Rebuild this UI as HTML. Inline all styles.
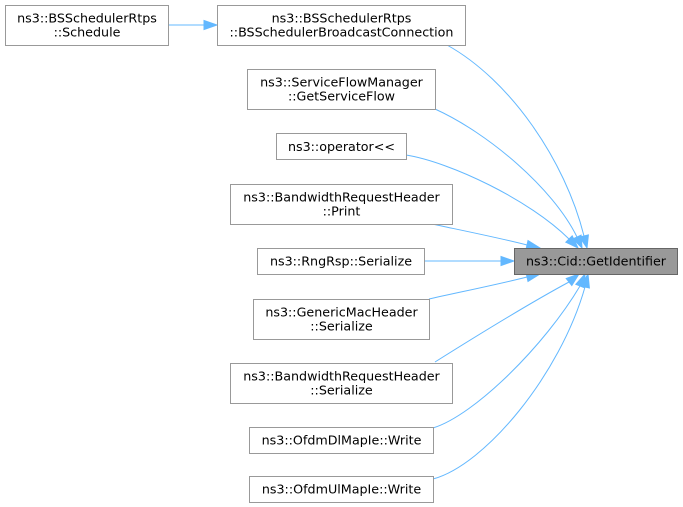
<!DOCTYPE html>
<html>
<head>
<meta charset="utf-8">
<style>
  html, body { margin: 0; padding: 0; background: #ffffff; }
  body { width: 683px; height: 507px; overflow: hidden; }
  svg { display: block; }
  text { font-family: "DejaVu Sans", "Liberation Sans", sans-serif; font-size: 12.7px; fill: #000000; text-anchor: middle; }
  .box { fill: #ffffff; stroke: #999999; stroke-width: 1; }
  .hl { fill: #999999; stroke: #666666; stroke-width: 1; }
  .edge { fill: none; stroke: #63b8ff; stroke-width: 1; }
  .arr { fill: #63b8ff; stroke: #63b8ff; stroke-width: 1; }
</style>
</head>
<body>
<svg width="683" height="507" viewBox="0 0 683 507" xmlns="http://www.w3.org/2000/svg">
  <!-- Edges -->
  <path class="edge" d="M168,25 L204,25"/>
  <polygon class="arr" points="204,20.5 217,25 204,29.5"/>

  <path class="edge" d="M447,45 C510,80 565,160 584,236"/>
  <polygon class="arr" points="579.6,237.1 587,248 588.4,234.9"/>

  <path class="edge" d="M435,109 C488,133 553,188 577,237"/>
  <polygon class="arr" points="572.9,238.9 582,248 581.1,235.1"/>

  <path class="edge" d="M406,155 C450,162 530,200 569,239"/>
  <polygon class="arr" points="565.8,242.2 578,248 572.2,235.8"/>

  <path class="edge" d="M432,224 C460,230 500,238 527,245"/>
  <polygon class="arr" points="526,249.4 540,248 528,240.6"/>

  <path class="edge" d="M424,261 L501,261"/>
  <polygon class="arr" points="501,256.5 514,261 501,265.5"/>

  <path class="edge" d="M429,299 C460,292 500,284 527,277"/>
  <polygon class="arr" points="528,281.4 540,274 526,272.6"/>

  <path class="edge" d="M435,362 C470,340 530,303 569,282"/>
  <polygon class="arr" points="571.8,285.5 579,274 566.2,278.5"/>

  <path class="edge" d="M433,428 C475,415 545,345 580,286"/>
  <polygon class="arr" points="584.2,287.7 585,274 575.8,284.3"/>

  <path class="edge" d="M433,479 C485,465 560,375 585,287"/>
  <polygon class="arr" points="589.4,288 588,274 580.6,286"/>

  <!-- Nodes -->
  <rect class="box" x="5.5" y="5.5" width="163" height="40"/>
  <text x="87" y="22.5">ns3::BSSchedulerRtps</text>
  <text x="87" y="36.5">::Schedule</text>

  <rect class="box" x="217.5" y="5.5" width="248" height="40"/>
  <text x="341.5" y="22.5">ns3::BSSchedulerRtps</text>
  <text x="341.5" y="36.5">::BSSchedulerBroadcastConnection</text>

  <rect class="box" x="247.5" y="69.5" width="188" height="40"/>
  <text x="341.5" y="86.5">ns3::ServiceFlowManager</text>
  <text x="341.5" y="100.5">::GetServiceFlow</text>

  <rect class="box" x="276.5" y="133.5" width="130" height="26"/>
  <text x="341.5" y="151">ns3::operator&lt;&lt;</text>

  <rect class="box" x="230.5" y="184.5" width="222" height="40"/>
  <text x="341.5" y="201.5">ns3::BandwidthRequestHeader</text>
  <text x="341.5" y="215.5">::Print</text>

  <rect class="box" x="257.5" y="248.5" width="167" height="26"/>
  <text x="341" y="265.5">ns3::RngRsp::Serialize</text>

  <rect class="hl" x="514.5" y="248.5" width="163" height="26"/>
  <text x="596" y="265.5">ns3::Cid::GetIdentifier</text>

  <rect class="box" x="253.5" y="299.5" width="176" height="40"/>
  <text x="341.5" y="316.5">ns3::GenericMacHeader</text>
  <text x="341.5" y="330.5">::Serialize</text>

  <rect class="box" x="230.5" y="363.5" width="222" height="40"/>
  <text x="341.5" y="380.5">ns3::BandwidthRequestHeader</text>
  <text x="341.5" y="394.5">::Serialize</text>

  <rect class="box" x="249.5" y="427.5" width="184" height="26"/>
  <text x="341.5" y="444.5">ns3::OfdmDlMapIe::Write</text>

  <rect class="box" x="249.5" y="476.5" width="184" height="26"/>
  <text x="341.5" y="493.5">ns3::OfdmUlMapIe::Write</text>
</svg>
</body>
</html>
